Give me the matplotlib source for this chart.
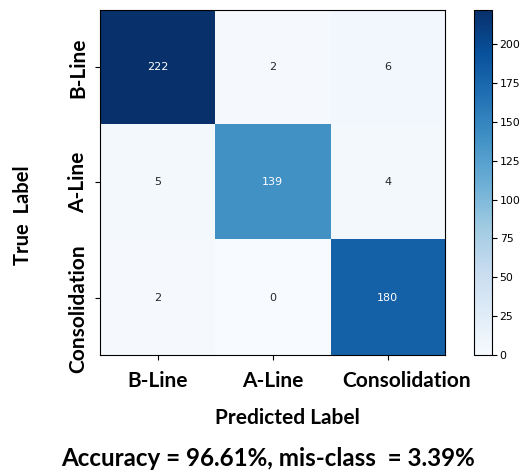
import numpy as np
import matplotlib
matplotlib.use('Agg')
import matplotlib.pyplot as plt
import matplotlib.transforms as mtransforms

# confusion matrix values
classes = ['B-Line', 'A-Line', 'Consolidation']
row_bline = [222, 2, 6]
row_aline = [5, 139, 4]
row_consol = [2, 0, 180]
cm = np.array([row_bline, row_aline, row_consol])
accuracy = 96.61
misclass = 3.39

fig = plt.figure(figsize=(5.22, 4.74), dpi=100)
ax = fig.add_axes([0.1916, 0.251, 0.661, 0.728])
cax = fig.add_axes([0.908, 0.251, 0.0345, 0.728])

im = ax.imshow(cm, interpolation='nearest', cmap=plt.cm.Blues, aspect='auto')
cb = fig.colorbar(im, cax=cax)
cb.ax.tick_params(labelsize=7.8, pad=2)
cb.outline.set_linewidth(0.8)

thresh = cm.max() / 2
for i in range(cm.shape[0]):
    for j in range(cm.shape[1]):
        ax.text(j, i, str(cm[i, j]), ha='center', va='center', fontsize=8,
                color='white' if cm[i, j] > thresh else '#262626')

bold = dict(family='Lato', weight='bold')
ax.set_xticks(range(3))
ax.set_xticklabels(classes, fontsize=15, **bold)
ax.set_yticks(range(3))
ax.set_yticklabels(classes, fontsize=15, rotation=90, va='center', **bold)
ax.tick_params(axis='x', pad=8)
ax.tick_params(axis='y', pad=5)
# "Consolidation" labels sit a bit off their ticks in the reference
lbl = ax.get_xticklabels()[2]
lbl.set_transform(lbl.get_transform() + mtransforms.ScaledTranslation(0.19, 0, fig.dpi_scale_trans))
lbl = ax.get_yticklabels()[2]
lbl.set_transform(lbl.get_transform() + mtransforms.ScaledTranslation(0, -0.11, fig.dpi_scale_trans))

fig.text(23 / 522, 1 - 215 / 474, 'True  Label', rotation=90, ha='center', va='center',
         fontsize=14.5, **bold)
fig.text(287 / 522, 1 - 418 / 474, 'Predicted Label', ha='center', va='center',
         fontsize=15, **bold)
fig.text(268 / 522, 1 - 458 / 474, 'Accuracy = %.2f%%, mis-class  = %.2f%%' % (accuracy, misclass),
         ha='center', va='center', fontsize=17.4, **bold)

fig.savefig('out.png', dpi=100)
